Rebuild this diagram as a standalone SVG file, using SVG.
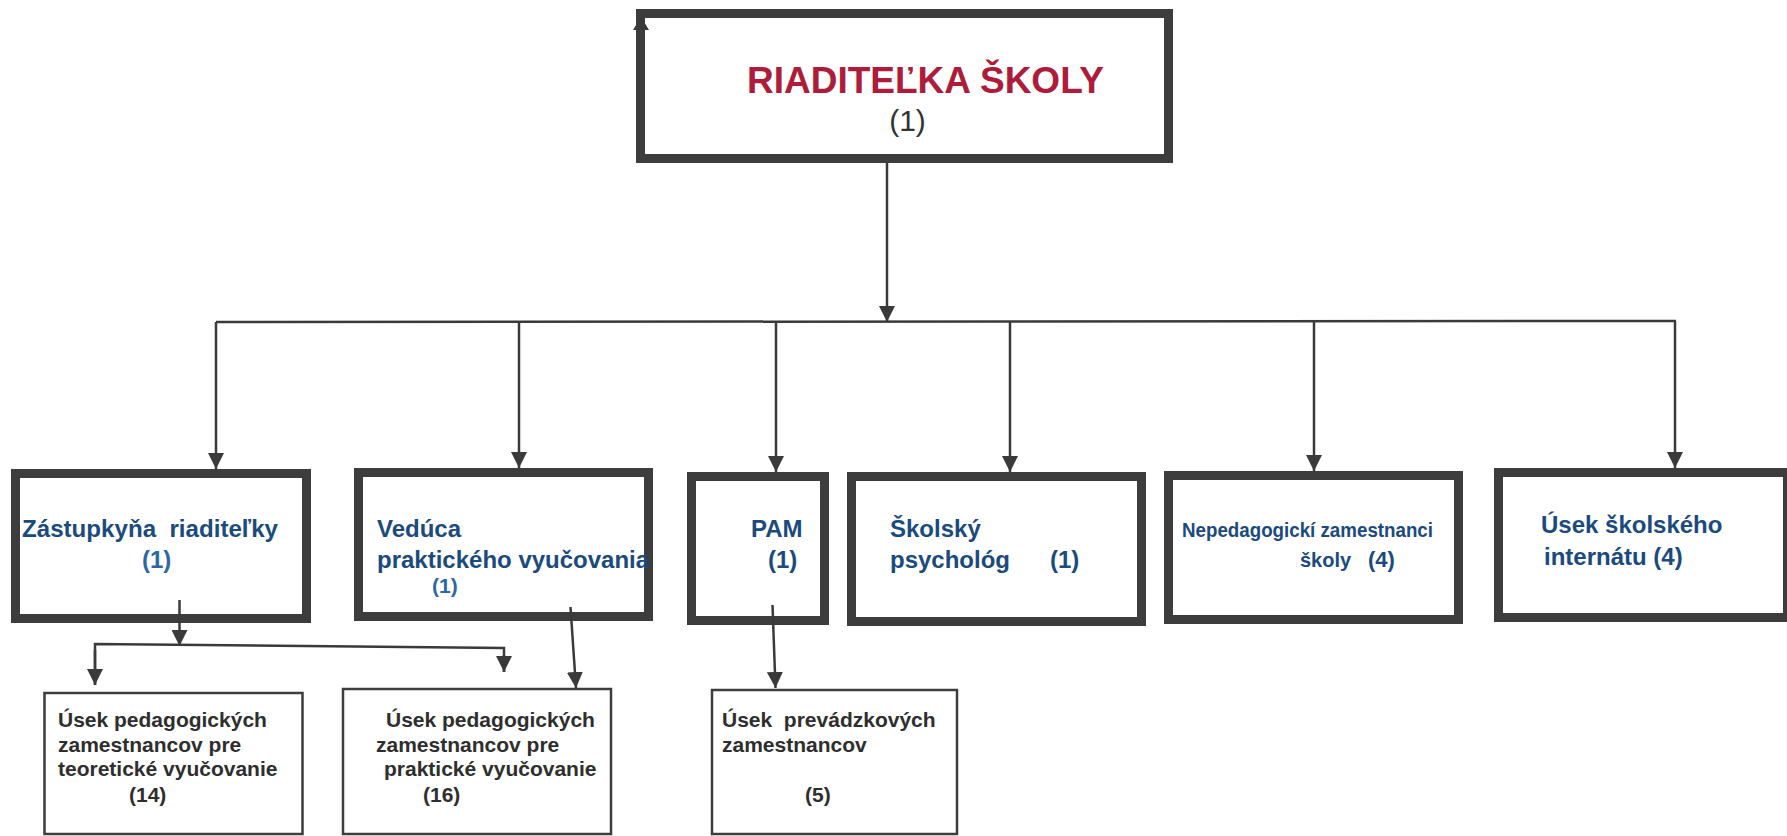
<svg xmlns="http://www.w3.org/2000/svg" width="1787" height="836" viewBox="0 0 1787 836">
<defs>
<style>
.box{fill:#fff;stroke:#3d3d3d;stroke-width:9}
.sub{fill:#fff;stroke:#3d3d3d;stroke-width:2.5}
.ln{fill:none;stroke:#3a3a3a;stroke-width:2.5}
.t{font-family:"Liberation Sans",Arial,sans-serif;font-weight:bold}
.blue{fill:#1b4a7c;font-size:24px}
.lblue{fill:#2f67a0;font-size:24px}
.gray{fill:#2e2e2e;font-size:21px}
</style>
<marker id="ah" viewBox="0 0 16 16" markerWidth="16" markerHeight="16" refX="16" refY="8" orient="auto" markerUnits="userSpaceOnUse">
<path d="M0,0 L16,8 L0,16 z" fill="#3a3a3a"/>
</marker>
</defs>
<rect width="1787" height="836" fill="#fff"/>

<g id="riaditelka">
<rect class="box" x="640.5" y="13.5" width="528" height="145"/>
<text class="t" x="747" y="93" font-size="37" fill="#ad1c3a">RIADITEĽKA ŠKOLY</text>
<text x="907.5" y="131" font-family="Liberation Sans,Arial,sans-serif" font-size="30" fill="#333" text-anchor="middle">(1)</text>
</g>

<g id="zastupkyna">
<rect class="box" x="15.5" y="473.5" width="291" height="145"/>
<text class="t blue" x="22" y="537" xml:space="preserve" textLength="256" lengthAdjust="spacingAndGlyphs">Zástupkyňa  riaditeľky</text>
<text class="t lblue" x="142" y="568" font-size="21">(1)</text>
</g>

<g id="veduca">
<rect class="box" x="358.5" y="472.5" width="290" height="144"/>
<text class="t blue" x="377" y="537">Vedúca</text>
<text class="t blue" x="377" y="568">praktického vyučovania</text>
<text class="t lblue" x="432" y="593" style="font-size:21px">(1)</text>
</g>

<g id="pam">
<rect class="box" x="691.5" y="476.5" width="133" height="144"/>
<text class="t blue" x="751" y="537">PAM</text>
<text class="t blue" x="768" y="568">(1)</text>
</g>

<g id="psycholog">
<rect class="box" x="851.5" y="476.5" width="290" height="145"/>
<text class="t blue" x="890" y="537">Školský</text>
<text class="t blue" x="890" y="568">psychológ</text>
<text class="t blue" x="1050" y="568">(1)</text>
</g>

<g id="nepedagogicki">
<rect class="box" x="1168.5" y="475.5" width="290" height="144"/>
<text class="t" x="1182" y="537" font-size="20" fill="#1b4a7c" textLength="251" lengthAdjust="spacingAndGlyphs">Nepedagogickí zamestnanci</text>
<text class="t" x="1300" y="567" font-size="20" fill="#1b4a7c">školy</text>
<text class="t" x="1368" y="567" font-size="22" fill="#1b4a7c">(4)</text>
</g>

<g id="internat">
<rect class="box" x="1498.5" y="472.5" width="289" height="145"/>
<text class="t blue" x="1541" y="533">Úsek školského</text>
<text class="t blue" x="1544" y="565">internátu (4)</text>
</g>

<g id="teoreticke">
<rect class="sub" x="44.5" y="693" width="258" height="141"/>
<text class="t gray" x="58" y="727">Úsek pedagogických</text>
<text class="t gray" x="58" y="752">zamestnancov pre</text>
<text class="t gray" x="58" y="776">teoretické vyučovanie</text>
<text class="t gray" x="129" y="802">(14)</text>
</g>

<g id="prakticke">
<rect class="sub" x="343" y="689" width="268" height="145"/>
<text class="t gray" x="386" y="727">Úsek pedagogických</text>
<text class="t gray" x="376" y="752">zamestnancov pre</text>
<text class="t gray" x="384" y="776">praktické vyučovanie</text>
<text class="t gray" x="423" y="802">(16)</text>
</g>

<g id="prevadzkovi">
<rect class="sub" x="712" y="690" width="245" height="144"/>
<text class="t gray" x="722" y="727" xml:space="preserve">Úsek  prevádzkových</text>
<text class="t gray" x="722" y="752">zamestnancov</text>
<text class="t gray" x="805" y="802">(5)</text>
</g>

<g id="connectors">
<polygon points="633,30 641,17 649,30" fill="#3a3a3a"/>
<line class="ln" x1="887" y1="163" x2="887" y2="322" marker-end="url(#ah)"/>
<line class="ln" x1="216" y1="322" x2="1676" y2="321"/>
<line class="ln" x1="216" y1="322" x2="216" y2="469" marker-end="url(#ah)"/>
<line class="ln" x1="519" y1="322" x2="519" y2="468" marker-end="url(#ah)"/>
<line class="ln" x1="776" y1="322" x2="776" y2="472" marker-end="url(#ah)"/>
<line class="ln" x1="1010" y1="322" x2="1010" y2="472" marker-end="url(#ah)"/>
<line class="ln" x1="1314" y1="321" x2="1314" y2="471" marker-end="url(#ah)"/>
<line class="ln" x1="1675" y1="321" x2="1675" y2="468" marker-end="url(#ah)"/>
<line class="ln" x1="179.5" y1="600" x2="179.5" y2="646" marker-end="url(#ah)"/>
<polyline class="ln" points="95,685 95,644 504,648 504,672"/>
<line class="ln" x1="95" y1="650" x2="95" y2="685" marker-end="url(#ah)"/>
<line class="ln" x1="504" y1="655" x2="504" y2="672" marker-end="url(#ah)"/>
<line class="ln" x1="570.5" y1="607" x2="576" y2="688" marker-end="url(#ah)"/>
<line class="ln" x1="772.5" y1="605" x2="775.5" y2="688" marker-end="url(#ah)"/>
</g>
</svg>
